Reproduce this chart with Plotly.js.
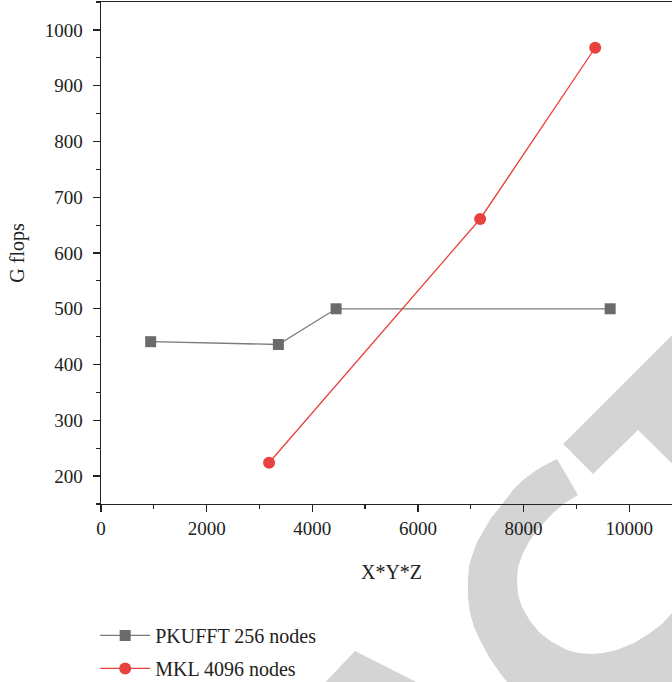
<!DOCTYPE html>
<html>
<head>
<meta charset="utf-8">
<script src="https://cdn.plot.ly/plotly-3.0.1.min.js"></script>
<style>
html,body{margin:0;padding:0;overflow:hidden;background:#fff;width:672px;height:682px;}
#chart{width:700px;height:682px;}
</style>
</head>
<body>
<div id="chart"></div>
<script>
// Data
const pkufftX = [940, 3358, 4451, 9640];
const pkufftY = [441, 436, 500, 500];
const mklX = [3182, 7178, 9356];
const mklY = [224, 661, 968];
const seriesNames = ["PKUFFT 256 nodes", "MKL 4096 nodes"];
const xTickVals = [0, 2000, 4000, 6000, 8000, 10000];
const xTickText = ["0", "2000", "4000", "6000", "8000", "10000"];
const yTickVals = [200, 300, 400, 500, 600, 700, 800, 900, 1000];
const yTickText = ["200", "300", "400", "500", "600", "700", "800", "900", "1000"];

// Layout constants (pixels)
const W = 700, H = 682;
const M = {l: 101, r: 18, t: 2, b: 178, autoexpand: false};
const PW = W - M.l - M.r, PH = H - M.t - M.b;

// Background watermark decoration (pixel polygons converted to paper coords)
const wmPolys = [
  [[557,459],[545,465],[535,471],[523,480],[513,490],[500,507],[491,518],[484,530],[477,542],[473,553],[469,566],[468,580],[468,597],[470,613],[474,627],[480,640],[489,657],[500,673],[507,682],
   [672,690],[672,613],[662,624],[650,633],[634,643],[617,650],[603,653],[590,654],[578,653],[567,650],[552,642],[540,633],[530,621],[522,607],[518,594],[517,580],[518,567],[523,553],[530,540],[540,527],[553,513],[565,503],[578,495]],
  [[563,444],[700,307],[700,491],[638,430],[593,474]],
  [[318,690],[355,651],[432,690]]
];
function toPath(poly){
  return poly.map((p,i)=>(i?'L':'M')+((p[0]-M.l)/PW).toFixed(4)+','+((H-M.b-p[1])/PH).toFixed(4)).join(' ')+' Z';
}
const shapes = wmPolys.map(p=>({type:'path', xref:'paper', yref:'paper', path:toPath(p),
  fillcolor:'#d4d4d4', line:{width:0}, layer:'below'}));

const font = "Liberation Serif";
const txt = '#222';

const traces = [
  {x: pkufftX, y: pkufftY, name: seriesNames[0], legendgroup:'a', type:'scatter', mode:'lines+markers',
   line:{color:'#7a7a7a', width:1.3}, marker:{symbol:'square', size:11, color:'#6b6b6b'}},
  {x: mklX, y: mklY, name: seriesNames[1], legendgroup:'b', type:'scatter', mode:'lines+markers',
   line:{color:'#e8423f', width:1.3}, marker:{symbol:'circle', size:12, color:'#e8423f'}}
];

const axisCommon = {
  showline:true, linecolor:'#222', linewidth:1.4, mirror:true,
  ticks:'outside', ticklen:7, tickwidth:1.3, tickcolor:'#222',
  showgrid:false, zeroline:false,
  tickfont:{family:font, size:19, color:txt},
};

const layout = {
  width: W, height: H, margin: M,
  paper_bgcolor:'#fff', plot_bgcolor:'rgba(0,0,0,0)',
  showlegend:true,
  xaxis: Object.assign({}, axisCommon, {
    range:[0, 11000], tickmode:'array', tickvals:xTickVals, ticktext:xTickText,
    minor:{dtick:1000, tick0:0, ticks:'outside', ticklen:4, tickwidth:1.2, tickcolor:'#222', showgrid:false},
    title:{text:'X*Y*Z', font:{family:font, size:20, color:txt}, standoff:26}
  }),
  yaxis: Object.assign({}, axisCommon, {
    range:[150, 1050], tickmode:'array', tickvals:yTickVals, ticktext:yTickText,
    minor:{dtick:50, tick0:0, ticks:'outside', ticklen:4, tickwidth:1.2, tickcolor:'#222', showgrid:false},
    ticklabelstandoff:6,
    title:{text:'G flops', font:{family:font, size:20, color:txt}, standoff:14}
  }),
  legend:{x:-0.01, xanchor:'left', y:-0.223, yanchor:'top', bgcolor:'rgba(0,0,0,0)',
    font:{family:font, size:20, color:txt}, itemwidth:50, tracegroupgap:4},
  shapes: shapes
};

Plotly.newPlot('chart', traces, layout, {displayModeBar:false, staticPlot:true});
</script>
</body>
</html>
